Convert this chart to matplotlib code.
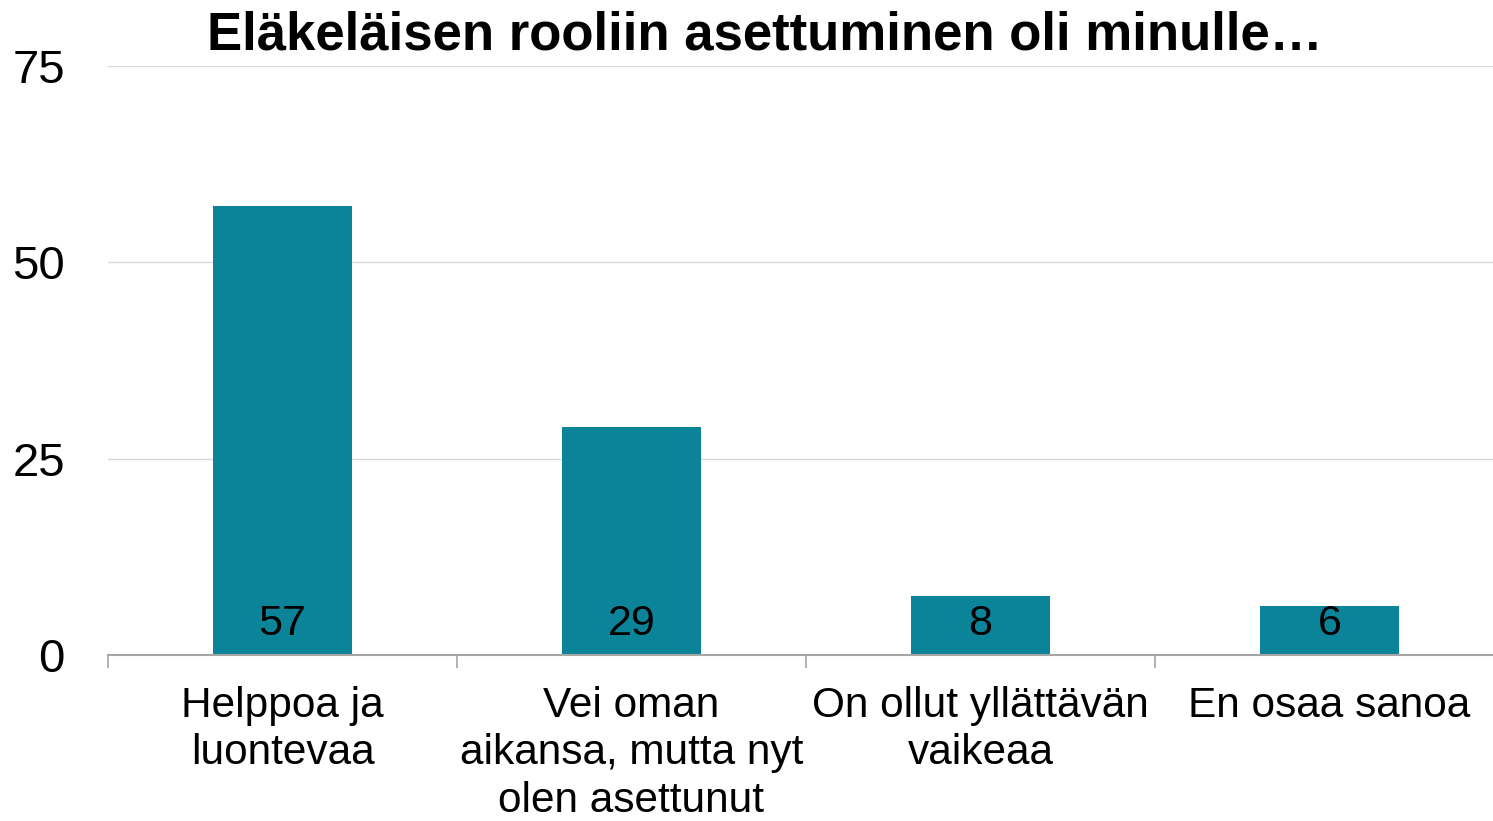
import matplotlib.pyplot as plt
from matplotlib.ticker import FixedLocator, NullFormatter

# Dati
categorie = ['Helppoa ja\nluontevaa',
             'Vei oman\naikansa, mutta nyt\nolen asettunut',
             'On ollut yllättävän\nvaikeaa',
             'En osaa sanoa']
valori = [57.2, 29.0, 7.5, 6.2]
etichette = ['57', '29', '8', '6']
yticks = [0, 25, 50, 75]

plt.rcParams['font.family'] = ['Liberation Sans', 'DejaVu Sans']

fig = plt.figure(figsize=(14.93, 8.21), dpi=100)
W, H = 1493, 821
ax = fig.add_axes([108 / W, 1 - 655 / H, (1504 - 108) / W, (655 - 66) / H])

x = range(len(categorie))
ax.bar(x, valori, width=0.4, color='#0b8399', zorder=2)

for xi, lab in zip(x, etichette):
    ax.text(xi, 4.0, lab, ha='center', va='center', fontsize=31, color='black', zorder=3)

ax.set_xlim(-0.5, len(categorie) - 0.5)
ax.set_ylim(0, 75)
ax.set_yticks(yticks)
ax.tick_params(axis='y', length=0, labelsize=34, pad=31)
ax.grid(axis='y', color='#d9d9d9', linewidth=1, zorder=0)

# Tick delle categorie ai confini, etichette al centro
ax.xaxis.set_major_locator(FixedLocator([-0.5, 0.5, 1.5, 2.5, 3.5]))
ax.xaxis.set_major_formatter(NullFormatter())
ax.xaxis.set_minor_locator(FixedLocator(list(x)))
ax.set_xticklabels(categorie, minor=True, fontsize=30.5, linespacing=1.25)
ax.tick_params(axis='x', which='major', length=9, color='#a6a6a6', width=1.2)
ax.tick_params(axis='x', which='minor', length=0, pad=22)

for s in ['top', 'right', 'left']:
    ax.spines[s].set_visible(False)
ax.spines['bottom'].set_color('#a6a6a6')
ax.spines['bottom'].set_linewidth(1.5)
ax.spines['bottom'].set_zorder(3)

fig.text(765 / W, 1 - 35 / H, 'Eläkeläisen rooliin asettuminen oli minulle…',
         ha='center', va='center', fontsize=38, fontweight='bold')

fig.savefig('out.png', dpi=100)
